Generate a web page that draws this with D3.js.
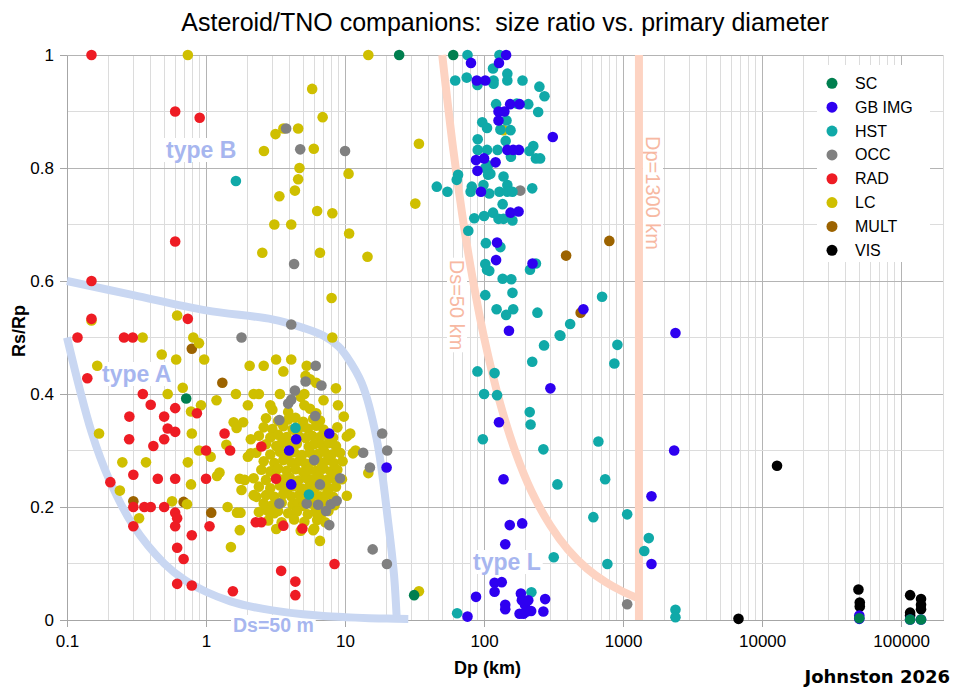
<!DOCTYPE html>
<html lang="en">
<head>
<meta charset="UTF-8">
<title>Asteroid/TNO companions</title>
<script src="https://cdnjs.cloudflare.com/ajax/libs/d3/7.8.5/d3.min.js"></script>
<style>
  body { margin: 0; background: #fff; }
  svg { display: block; font-family: "Liberation Sans", Arial, sans-serif; }
</style>
</head>
<body>
<div id="draw-here"></div>
<script>
/* global d3 */

// ---- data: [Dp (km), Rs/Rp] ----
var scPoints = [[24.5,1.0],[60,1.0],[0.72,0.392],[31.4,0.044],[50000,0.003],[116000,0.001],[139000,0.001]];

var gbPoints = [
  [7.7,0.33],[4.45,0.32],[3.96,0.30],[4.1,0.24],[19.9,0.27],
  [151,0.512],[2380,0.508],[300,0.41],[128,0.35],[2330,0.30],[138,0.249],[1600,0.219],[153,0.168],[188,0.171],
  [142,0.134],[1600,0.099],[119,0.066],[134,0.067],[119,0.05],[87.5,0.041],[184,0.047],[275,0.037],[142,0.027],
  [142,0.019],[187,0.035],[197,0.027],[203,0.015],[192,0.011],[180,0.011],[218,0.016],[208,0.035],[267,0.015],[76,0.006],
  [144,1.0],[80.5,0.986],[128,0.986],[88.6,0.955],[102,0.955],[154,0.913],[180,0.913],[127,0.90],[140,0.90],
  [127,0.884],[312,0.855],[147,0.832],[162,0.832],[178,0.832],[87.5,0.814],[100,0.817],[121,0.81],[89.6,0.795],
  [95,0.758],[155,0.721],[177,0.723],[124,0.668],[122,0.637],[223,0.631],[518,0.55],
  [50000,0.008],[50000,0.002],[116000,0.001],[139000,0.001]
];

var hstPoints = [
  [1.64,0.777],[4.4,0.34],[5.5,0.222],[45.7,0.767],[54.5,0.758],[64,0.012],[2380,0.018],[2380,0.005],
  [354,0.503],[270,0.486],[910,0.487],[865,0.454],[222,0.457],[89.6,0.44],[119,0.437],[100,0.40],[124,0.398],
  [213,0.368],[216,0.346],[98,0.32],[267,0.302],[664,0.316],[337,0.24],[743,0.249],[611,0.182],[1070,0.187],
  [1530,0.145],[1420,0.122],[317,0.111],[771,0.099],[219,0.049],
  [76,1.0],[129,1.0],[116,0.976],[147,0.967],[62,0.955],[75,0.96],[89.6,0.947],[117,0.955],[117,0.949],[147,0.955],
  [189,0.955],[250,0.944],[272,0.927],[122,0.913],[208,0.913],[172,0.914],[245,0.899],[97,0.881],[105,0.871],
  [145,0.884],[131,0.868],[155,0.867],[90,0.851],[143,0.848],[90,0.832],[105,0.832],[125,0.832],[226,0.839],
  [212,0.83],[236,0.817],[253,0.817],[156,0.82],[107,0.805],[102,0.80],[111,0.79],[107,0.788],[65,0.788],
  [63.6,0.779],[81.6,0.767],[80,0.758],[99,0.77],[109,0.755],[129,0.758],[147,0.77],[147,0.758],[160,0.758],
  [138,0.785],[222,0.764],[136,0.736],[85,0.711],[100,0.715],[116,0.721],[127,0.71],[138,0.71],[160,0.707],
  [77,0.689],[103,0.667],[131,0.66],[102,0.63],[109,0.618],[105,0.62],[236,0.631],[214,0.62],[136,0.604],
  [157,0.603],[102,0.575],[160,0.579],[706,0.572],[123,0.55],[162,0.55],[144,0.54],[242,0.544],[416,0.524],[350,0.504]
];

var occPoints = [
  [3.77,0.87],[4.76,0.833],[10,0.83],[4.3,0.63],[4.1,0.523],[1.8,0.50],[6.15,0.45],[5.2,0.422],[6.76,0.415],
  [4.36,0.406],[4.1,0.39],[3.9,0.383],[3.37,0.354],[6.1,0.361],[18.5,0.33],[20.1,0.30],[13.5,0.296],[15.1,0.27],
  [6.0,0.283],[9.2,0.251],[6.6,0.24],[3.37,0.206],[5.3,0.206],[6.4,0.204],[7.3,0.193],[7.9,0.205],[8.7,0.211],
  [7.7,0.168],[15.8,0.125],[20,0.099],[1070,0.028],[182,0.76]
];

var radPoints = [
  [0.15,1.0],[0.6,0.90],[0.9,0.889],[0.6,0.67],[0.15,0.6],[0.15,0.533],[0.74,0.533],[0.119,0.5],[0.257,0.5],
  [0.297,0.5],[0.14,0.428],[0.351,0.40],[0.4,0.381],[0.281,0.36],[0.5,0.36],[0.6,0.375],[0.86,0.366],[0.53,0.339],
  [0.6,0.333],[0.28,0.32],[0.5,0.32],[0.418,0.308],[1.0,0.30],[1.36,0.33],[1.49,0.30],[2.5,0.307],[0.3,0.257],
  [0.205,0.244],[0.45,0.25],[0.6,0.25],[1.0,0.25],[3.19,0.25],[0.3,0.20],[0.36,0.2],[0.4,0.2],[0.5,0.2],[0.6,0.19],
  [0.62,0.18],[0.3,0.166],[0.6,0.166],[1.06,0.166],[0.79,0.15],[0.62,0.128],[0.69,0.108],[0.62,0.064],[0.79,0.061],
  [1.56,0.051],[2.28,0.173],[2.5,0.173],[3.6,0.167],[4.93,0.162],[3.47,0.087],[4.39,0.068],[4.39,0.044],[8.4,0.099]
];

var lcPoints = [
  [0.74,1.0],[14.7,1.0],[0.15,0.53],[0.62,0.539],[0.81,0.5],[0.89,0.49],[0.35,0.5],[0.48,0.47],[0.61,0.461],
  [0.97,0.461],[3.19,0.461],[4.1,0.461],[5.3,0.45],
  [2.61,0.83],[3.16,0.86],[3.6,0.87],[4.6,0.87],[5.8,0.94],[6.9,0.89],[5.96,0.834],[4.7,0.80],[4.6,0.78],
  [10.6,0.79],[4.36,0.76],[3.37,0.75],[6.3,0.724],[8.1,0.72],[3.1,0.70],[4.1,0.70],[10.7,0.684],[2.54,0.65],
  [6.6,0.65],[14.5,0.643],[8.0,0.57],[8.1,0.50],[34,0.843],[32,0.737],[138,0.867],
  [0.165,0.45],[0.68,0.411],[0.53,0.40],[0.92,0.38],[0.78,0.369],[1.19,0.389],[1.64,0.40],[2.0,0.38],[0.17,0.33],
  [0.79,0.33],[0.89,0.30],[1.08,0.289],[0.25,0.279],[0.37,0.279],[0.74,0.279],[1.2,0.255],[1.25,0.261],[0.78,0.24],
  [0.24,0.229],[0.57,0.21],[0.73,0.205],[0.33,0.18],[1.43,0.2],[1.67,0.19],[1.77,0.19],[1.75,0.159],[1.51,0.129],
  [2.06,0.45],[2.6,0.45],[3.6,0.44],[5.2,0.432],[5.6,0.426],[6.2,0.42],[2.2,0.40],[2.4,0.40],[3.4,0.40],[5.1,0.40],
  [4.8,0.395],[8.6,0.41],[7.0,0.389],[8.9,0.38],[2.9,0.38],[5.1,0.38],[9.8,0.36],[10.9,0.33],[11.4,0.295],
  [11.9,0.30],[14.7,0.26],[10.3,0.22],[34,0.051],[6.6,0.14],[5.9,0.159],
  [1.58,0.35],[1.85,0.35],[1.66,0.34],[2.1,0.32],[1.4,0.31],[2.0,0.289],[2.1,0.295],[1.75,0.25],[1.9,0.248],
  [1.8,0.23],[2.3,0.218],[2.2,0.221],[2.7,0.195],[3.1,0.189],
  // the dense blob between 2 and 10 km
  [3.0,0.372],[3.9,0.368],[5.6,0.374],[6.2,0.366],
  [2.7,0.357],[3.3,0.352],[3.9,0.355],[4.4,0.358],[5.0,0.351],[5.9,0.356],[6.6,0.353],
  [2.6,0.341],[3.0,0.338],[3.6,0.343],[4.2,0.337],[4.9,0.342],[5.4,0.339],[6.2,0.344],[7.0,0.337],[8.8,0.341],
  [2.4,0.326],[2.9,0.323],[3.3,0.328],[3.8,0.324],[4.6,0.327],[5.2,0.322],[5.8,0.326],[6.6,0.324],[7.3,0.328],[8.2,0.323],[10.3,0.325],
  [2.7,0.311],[3.2,0.308],[3.5,0.313],[4.0,0.309],[4.5,0.312],[5.5,0.307],[6.0,0.311],[6.9,0.309],[7.6,0.313],[8.6,0.308],
  [2.3,0.296],[2.9,0.293],[3.4,0.298],[3.9,0.294],[4.3,0.297],[4.9,0.292],[5.6,0.296],[6.4,0.294],[7.1,0.298],[8.0,0.293],[9.2,0.296],
  [2.6,0.281],[3.1,0.278],[3.6,0.283],[4.1,0.279],[4.7,0.282],[5.2,0.277],[5.9,0.281],[6.7,0.279],[7.5,0.283],[8.3,0.278],[9.6,0.281],
  [2.5,0.266],[2.9,0.263],[3.3,0.268],[3.8,0.264],[4.4,0.267],[5.0,0.262],[5.5,0.266],[6.2,0.264],[7.0,0.268],[7.9,0.263],[8.8,0.266],
  [2.2,0.251],[2.7,0.248],[3.2,0.253],[3.6,0.249],[4.0,0.252],[4.6,0.247],[5.3,0.251],[5.8,0.249],[6.5,0.253],[7.4,0.248],[8.3,0.251],[9.5,0.249],
  [2.4,0.236],[2.9,0.233],[3.4,0.238],[3.9,0.234],[4.3,0.237],[4.9,0.232],[5.5,0.236],[6.1,0.234],[6.8,0.238],[7.7,0.233],[8.6,0.236],
  [2.7,0.221],[3.1,0.218],[3.6,0.223],[4.1,0.219],[4.7,0.222],[5.2,0.217],[5.9,0.221],[6.6,0.219],[7.4,0.223],[8.2,0.218],
  [2.6,0.206],[3.0,0.203],[3.5,0.208],[4.2,0.204],[4.6,0.207],[5.0,0.202],[5.7,0.206],[6.3,0.204],[7.1,0.208],[8.4,0.203],
  [2.4,0.191],[2.9,0.188],[3.3,0.193],[3.9,0.189],[4.5,0.192],[5.4,0.187],[6.1,0.191],[6.8,0.189],[7.6,0.193],
  [2.8,0.176],[3.5,0.173],[4.3,0.178],[5.1,0.174],[6.3,0.177],[7.2,0.173],
  [3.2,0.161],[4.8,0.158],[6.0,0.162]
];

var multPoints = [[0.79,0.48],[1.31,0.42],[0.3,0.21],[0.69,0.209],[1.09,0.19],[389,0.645],[796,0.671],[495,0.544]];

var visPoints = [[6760,0.002],[12800,0.273],[49300,0.054],[50400,0.031],[50400,0.024],[116000,0.044],[116000,0.013],
  [116000,0.008],[139000,0.037],[139000,0.027],[139000,0.019]];

// reference lines
var ds50mLine = [[0.1,0.5],[0.15,0.333],[0.2,0.25],[0.3,0.167],[0.5,0.1],[0.7,0.071],[1,0.05],[1.5,0.033],[2,0.025],
  [3,0.017],[5,0.01],[7,0.007],[10,0.005],[15,0.0033],[20,0.0025],[28.5,0.0018]];
var typeABLine = [[0.1,0.6],[0.3,0.575],[1,0.548],[3,0.532],[5,0.517],[7,0.503],[9,0.484],[10.3,0.466],[13.2,0.419],
  [16.9,0.32],[20.5,0.17],[22.5,0.08],[23.5,0.006]];
var ds50kmLine = [[50,1],[60,0.833],[70,0.714],[80,0.625],[100,0.5],[130,0.385],[170,0.294],[220,0.227],[300,0.167],
  [400,0.125],[550,0.091],[750,0.067],[1000,0.05],[1300,0.038]];
var dp1300Line = [[1300,0],[1300,1]];

var seriesNames = ["SC", "GB IMG", "HST", "OCC", "RAD", "LC", "MULT", "VIS"];
var seriesColors = ["#007f4f", "#2e00f0", "#10a9a8", "#808080", "#ee1c24", "#cfbf00", "#9c6300", "#000000"];
var seriesPoints = [scPoints, gbPoints, hstPoints, occPoints, radPoints, lcPoints, multPoints, visPoints];

var xTickValues = [0.1, 1, 10, 100, 1000, 10000, 100000];
var xTickLabels = ["0.1", "1", "10", "100", "1000", "10000", "100000"];
var yTickValues = [0, 0.2, 0.4, 0.6, 0.8, 1];
var yTickLabels = ["0", "0.2", "0.4", "0.6", "0.8", "1"];

// ---- layout ----
var w = 959, h = 689;
var plotLeft = 67, plotRight = 943, plotTop = 55, plotBottom = 620;

var svg = d3.select("#draw-here").append("svg")
    .attr("width", w)
    .attr("height", h);

var x = d3.scaleLog().domain([0.1, 200000]).range([plotLeft, plotRight]);
var y = d3.scaleLinear().domain([0, 1]).range([plotBottom, plotTop]);

// gridlines
var grid = svg.append("g").attr("shape-rendering", "crispEdges");
function isDecade(d) {
    var l = Math.log10(d);
    return Math.abs(l - Math.round(l)) < 1e-6;
}
grid.selectAll(".vg").data(x.ticks()).enter().append("line")
    .attr("x1", function(d) { return x(d); })
    .attr("x2", function(d) { return x(d); })
    .attr("y1", y(0)).attr("y2", y(1))
    .attr("stroke", function(d) { return isDecade(d) ? "#b4b4b4" : "#dcdcdc"; });
grid.selectAll(".hg").data(d3.range(1, 11).map(function(i) { return i / 10; })).enter().append("line")
    .attr("x1", plotLeft).attr("x2", plotRight)
    .attr("y1", function(d) { return y(d); })
    .attr("y2", function(d) { return y(d); })
    .attr("stroke", function(d, i) { return i % 2 === 1 ? "#b4b4b4" : "#dcdcdc"; });

// axes
var xAxis = svg.append("g")
    .attr("transform", "translate(0," + plotBottom + ")")
    .call(d3.axisBottom(x).tickValues(xTickValues)
        .tickFormat(function(d, i) { return xTickLabels[i]; })
        .tickSize(7).tickSizeOuter(0).tickPadding(8));
var yAxis = svg.append("g")
    .attr("transform", "translate(" + plotLeft + ",0)")
    .call(d3.axisLeft(y).tickValues(yTickValues)
        .tickFormat(function(d, i) { return yTickLabels[i]; })
        .tickSize(7).tickSizeOuter(0).tickPadding(6));
[xAxis, yAxis].forEach(function(a) {
    a.attr("shape-rendering", "crispEdges");
    a.select(".domain").attr("stroke", "#a6a6a6");
    a.selectAll(".tick line").attr("stroke", "#a6a6a6");
    a.selectAll(".tick text").attr("font-size", "17px").attr("fill", "#000")
        .attr("font-family", "'Liberation Sans', Arial, sans-serif");
});

// text labels with a white box behind them
function addLabel(txt, tx, ty, rot, size, weight, color, anchor) {
    var g = svg.append("g").attr("transform", "translate(" + tx + "," + ty + ") rotate(" + rot + ")");
    var t = g.append("text").text(txt)
        .attr("font-size", size).attr("font-weight", weight)
        .attr("fill", color).attr("text-anchor", anchor);
    var b = t.node().getBBox();
    g.insert("rect", "text")
        .attr("x", b.x - 2).attr("y", b.y + 1)
        .attr("width", b.width + 4).attr("height", b.height - 2)
        .attr("fill", "#fff");
}
addLabel("type B", 166, 158, 0, "23px", "bold", "#a7b6ef", "start");
addLabel("type A", 102, 382, 0, "23px", "bold", "#a7b6ef", "start");
addLabel("type L", 473, 570, 0, "23px", "bold", "#a7b6ef", "start");
addLabel("Ds=50 m", 233, 632, 0, "19.5px", "bold", "#a7b6ef", "start");
addLabel("Ds=50 km", 450, 305, 90, "20px", "normal", "#f7b8a2", "middle");
addLabel("Dp=1300 km", 646, 193, 90, "20px", "normal", "#f7b8a2", "middle");

// reference curves
var line = d3.line()
    .x(function(d) { return x(d[0]); })
    .y(function(d) { return y(d[1]); })
    .curve(d3.curveCatmullRom);
var curves = svg.append("g").attr("fill", "none").attr("stroke-width", 8);
curves.append("path").attr("d", line(ds50mLine)).attr("stroke", "#c9d7f2");
curves.append("path").attr("d", line(typeABLine)).attr("stroke", "#c9d7f2");
curves.append("path").attr("d", line(ds50kmLine)).attr("stroke", "#fdd3c2");
curves.append("path").attr("d", line(dp1300Line)).attr("stroke", "#fdd3c2");

// points, last legend entry drawn first so SC ends on top
var dots = svg.append("g");
for (var s = seriesNames.length - 1; s >= 0; s--) {
    dots.append("g").attr("fill", seriesColors[s])
        .selectAll("circle").data(seriesPoints[s]).enter().append("circle")
        .attr("cx", function(d) { return x(d[0]); })
        .attr("cy", function(d) { return y(d[1]); })
        .attr("r", 5.3);
}

// legend
var legend = svg.append("g");
legend.append("rect").attr("x", 817).attr("y", 65).attr("width", 113).attr("height", 197).attr("fill", "#fff");
var items = legend.selectAll(".item").data(seriesNames).enter().append("g")
    .attr("transform", function(d, i) { return "translate(832," + (83.3 + i * 23.86) + ")"; });
items.append("circle").attr("r", 5.5).attr("fill", function(d, i) { return seriesColors[i]; });
items.append("text").attr("x", 23).attr("dy", "0.35em").attr("font-size", "16px").text(function(d) { return d; });

// titles
svg.append("text").attr("x", 505).attr("y", 31).attr("text-anchor", "middle")
    .attr("font-size", "25px").attr("xml:space", "preserve")
    .text("Asteroid/TNO companions:  size ratio vs. primary diameter");
svg.append("text").attr("x", 454).attr("y", 674).attr("font-size", "18px").attr("font-weight", "bold")
    .text("Dp (km)");
svg.append("text").attr("transform", "translate(25,331) rotate(-90)").attr("text-anchor", "middle")
    .attr("font-size", "18px").attr("font-weight", "bold").text("Rs/Rp");
svg.append("text").attr("x", 950).attr("y", 683).attr("text-anchor", "end")
    .attr("font-family", "'DejaVu Sans', Verdana, sans-serif")
    .attr("font-size", "18px").attr("font-weight", "bold").text("Johnston 2026");
</script>
</body>
</html>
